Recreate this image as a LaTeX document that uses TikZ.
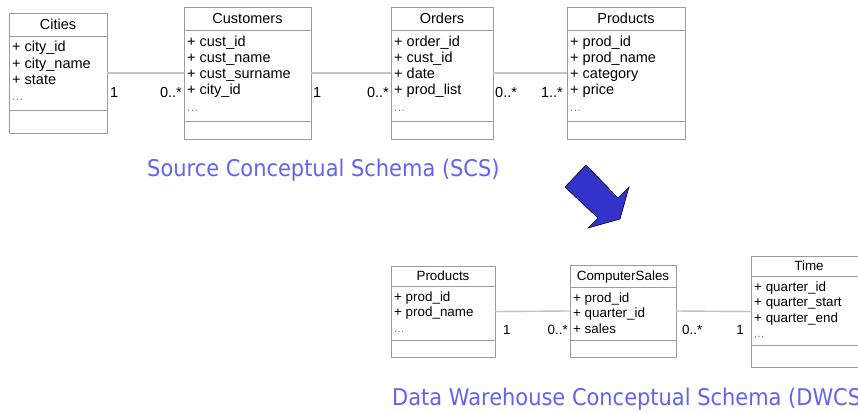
\documentclass[tikz,border=0pt]{standalone}
\usepackage{fontspec}
\setmainfont{Liberation Sans}
\newfontfamily\capfont{DejaVu Sans}
\definecolor{capblue}{RGB}{98,98,245}
\definecolor{arrowblue}{RGB}{51,51,204}
\definecolor{boxgray}{RGB}{155,155,155}
\definecolor{linegray}{RGB}{195,195,195}
\definecolor{dotgray}{RGB}{120,120,120}
\def\umlfont{\fontsize{14.5}{16}\selectfont}
\def\umlcap{5.2}
\def\umlfirst{16}
\def\umlskip{16.3}
\newcommand\umldots{\textcolor{dotgray}{\scalebox{0.8}{.\kern0.6pt.\kern0.6pt.}}}
\newcommand\umlclass[9]{%
  \node[box, anchor=north west, minimum width={(#4-#2)*1pt}, minimum height={(#5-#3)*1pt}] (#1) at (#2,#3) {};
  \draw[sepline] (#2,#6) -- (#4,#6) (#2,#7) -- (#4,#7);
  \node[umltext, anchor=base] (#1-t) at ({(#2+#4)/2},{(#3+#6)/2+\umlcap}) {#8};
  \foreach \a [count=\i] in {#9}{%
    \node[umltext, anchor=base west] (#1-a\i) at ({#2+3},{#6+\umlfirst+(\i-1)*\umlskip}) {\a};}%
}
\begin{document}
\begin{tikzpicture}[x=1pt,y=-1pt,
  box/.style={draw=boxgray, line width=0.9pt, inner sep=0pt, outer sep=0pt},
  sepline/.style={draw=boxgray, line width=0.9pt},
  conn/.style={draw=linegray, line width=1.4pt},
  umltext/.style={font=\umlfont, inner sep=0pt, text=black},
  mult/.style={font=\umlfont, inner sep=0pt, text=black},
  caption/.style={font=\capfont\fontsize{23}{27}\selectfont, text=capblue, inner sep=0pt},
  bigarrow/.style={fill=arrowblue, draw=black, line width=0.6pt, line join=miter}]
\useasboundingbox (0,0) rectangle (858,412);
\clip (0,0) rectangle (858,412);
\fill[white] (0,0) rectangle (858,412);
% ---- Source schema ----
\umlclass{cities}{9}{13}{107}{133}{36}{110}{Cities}{+ city\_id, + city\_name, + state, \umldots}
\umlclass{customers}{184}{7}{311}{139}{30}{121}{Customers}{+ cust\_id, + cust\_name, + cust\_surname, + city\_id, \umldots}
\umlclass{orders}{391}{7}{493}{139}{30}{121}{Orders}{+ order\_id, + cust\_id, + date, + prod\_list, \umldots}
\umlclass{products}{567}{7}{685}{139}{30}{121}{Products}{+ prod\_id, + prod\_name, + category, + price, \umldots}
\draw[conn] (cities.east) -- (customers.west);
\draw[conn] (customers.east) -- (orders.west);
\draw[conn] (orders.east) -- (products.west);
\node[mult, anchor=base west] (m1) at ([xshift=3pt,yshift=-24pt]cities.east) {1};
\node[mult, anchor=base east] (m2) at ([xshift=-2pt,yshift=-24pt]customers.west) {0..*};
\node[mult, anchor=base west] (m3) at ([xshift=2pt,yshift=-24pt]customers.east) {1};
\node[mult, anchor=base east] (m4) at ([xshift=-2pt,yshift=-24pt]orders.west) {0..*};
\node[mult, anchor=base west] (m5) at ([xshift=2pt,yshift=-24pt]orders.east) {0..*};
\node[mult, anchor=base east] (m6) at ([xshift=-4pt,yshift=-24pt]products.west) {1..*};
\node[caption, anchor=base west] (scs) at (147,176) {\scalebox{0.911}[1]{Source Conceptual Schema (SCS)}};
% ---- arrow ----
\path[bigarrow] (565,187) -- (586,165) -- (618,198) -- (629,187) -- (620,219) -- (588,228) -- (598,218) -- cycle;
% ---- DW schema ----
\def\umlfont{\fontsize{13.4}{15}\selectfont}
\def\umlcap{4.8}
\def\umlfirst{15.5}
\def\umlskip{15.3}
\umlclass{dwproducts}{391}{266}{495}{357}{286}{340}{Products}{+ prod\_id, + prod\_name, \umldots}
\umlclass{sales}{570}{265}{676}{357}{287}{340}{ComputerSales}{+ prod\_id, + quarter\_id, + sales}
\umlclass{time}{751}{256}{867}{367}{276}{345}{Time}{+ quarter\_id, + quarter\_start, + quarter\_end, \umldots}
\draw[conn] (dwproducts.east) -- (sales.west);
\draw[conn] (sales.east) -- (time.west);
\node[mult, anchor=base west] (m7) at ([xshift=8pt,yshift=-23pt]dwproducts.east) {1};
\node[mult, anchor=base east] (m8) at ([xshift=-2pt,yshift=-23pt]sales.west) {0..*};
\node[mult, anchor=base west] (m9) at ([xshift=6pt,yshift=-23pt]sales.east) {0..*};
\node[mult, anchor=base east] (m10) at ([xshift=-7pt,yshift=-23pt]time.west) {1};
\node[caption, anchor=base west] (dwcs) at (392,405) {\scalebox{0.911}[1]{Data Warehouse Conceptual Schema (DWCS)}};
\end{tikzpicture}
\end{document}
